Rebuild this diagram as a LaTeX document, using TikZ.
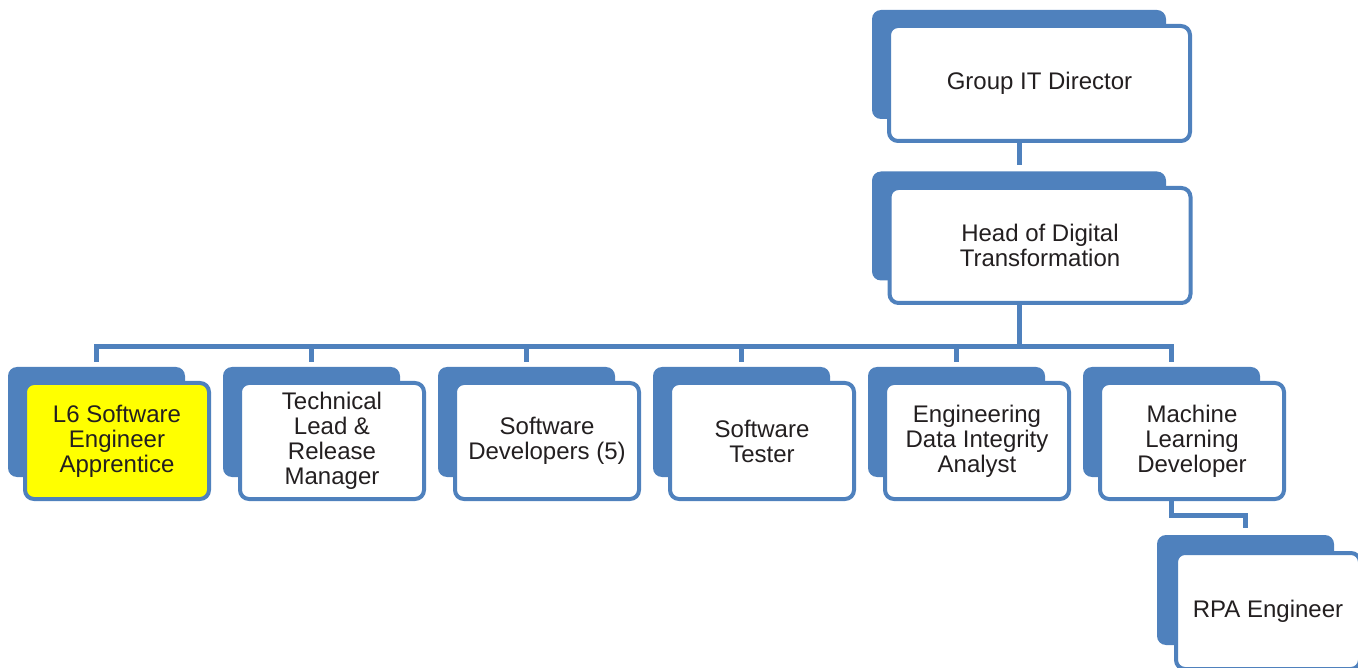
\documentclass[tikz,border=0pt]{standalone}
\usepackage{fontspec}
\setmainfont{Liberation Sans}
\usepackage{tikz}
\definecolor{ocblue}{HTML}{4F81BD}
\definecolor{ocyellow}{HTML}{FFFF00}
\definecolor{octext}{HTML}{231F20}

\begin{document}
\begin{tikzpicture}[x=1pt, y=-1pt,
	plate/.style={fill=ocblue, rounded corners=9pt, inner sep=0pt, minimum width=177pt, minimum height=110pt},
	card/.style={draw=ocblue, line width=4pt, fill=white, rounded corners=9pt, inner sep=0pt, minimum width=184pt, minimum height=116pt, align=center, text=octext, font=\fontsize{24}{25}\selectfont},
	link/.style={draw=ocblue, line width=5pt}]
			\useasboundingbox (0,0) rectangle (1358,668);
			% back plates first, then the links, then the white cards on top
			\node [plate, minimum width=294pt, minimum height=109pt] (gitd-bk) at (1019, 64.5) {};
			\node [plate, minimum width=294pt, minimum height=109pt] (hdt-bk) at (1019, 226) {};
			\node [plate] (l6-bk) at (96.5, 422) {};
			\node [plate] (tl-bk) at (311.5, 422) {};
			\node [plate] (sd-bk) at (526.5, 422) {};
			\node [plate] (st-bk) at (741.5, 422) {};
			\node [plate] (edi-bk) at (956.5, 422) {};
			\node [plate] (ml-bk) at (1171.5, 422) {};
			\node [plate] (rpa-bk) at (1245.5, 590) {};
			\coordinate (bus) at (1019, 347);
			\draw [link] (gitd-bk.south) -- ([yshift=6pt]hdt-bk.north);
			\draw [link] (hdt-bk.south) -- (bus);
			\draw [link] (bus) -| ([yshift=5pt]l6-bk.north);
			\draw [link] (bus) -| ([yshift=5pt]tl-bk.north);
			\draw [link] (bus) -| ([yshift=5pt]sd-bk.north);
			\draw [link] (bus) -| ([yshift=5pt]st-bk.north);
			\draw [link] (bus) -| ([yshift=5pt]edi-bk.north);
			\draw [link] (bus) -| ([yshift=5pt]ml-bk.north);
			\draw [link] (ml-bk.south) -- ++(0, 38) -| ([yshift=7pt]rpa-bk.north);
			\node [card, minimum width=301pt, minimum height=115pt] (gitd) at (1039.5, 83.5) {Group IT Director};
			\node [card, minimum width=301pt, minimum height=115pt] (hdt) at (1040, 245.5) {Head of Digital\\Transformation};
			\node [card, fill=ocyellow] (l6) at (117, 441) {L6 Software\\Engineer\\Apprentice};
			\node [card] (tl) at (332, 441) {Technical\\Lead \&\\Release\\Manager};
			\node [card] (sd) at (547, 441) {Software\\Developers (5)};
			\node [card] (st) at (762, 441) {Software\\Tester};
			\node [card] (edi) at (977, 441) {Engineering\\Data Integrity\\Analyst};
			\node [card] (ml) at (1192, 441) {Machine\\Learning\\Developer};
			\node [card] (rpa) at (1268, 611) {RPA Engineer};
\end{tikzpicture}
\end{document}
